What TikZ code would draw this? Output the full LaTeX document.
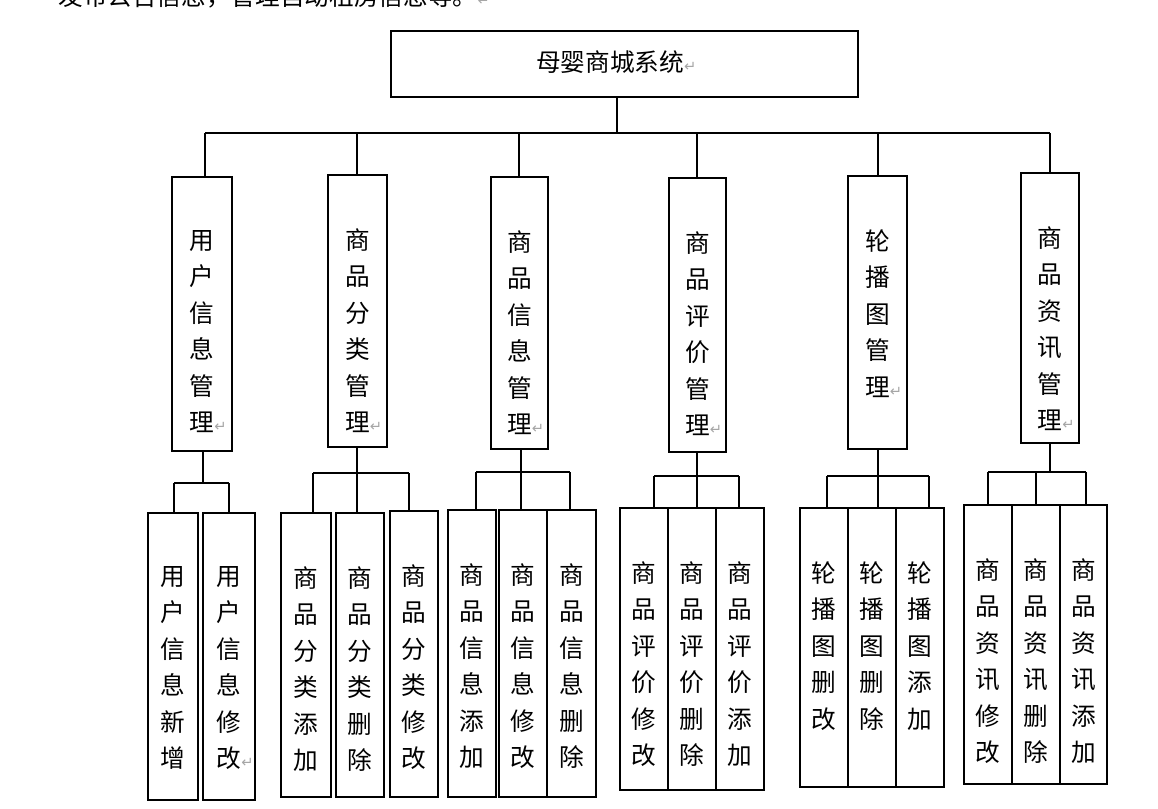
\documentclass[tikz,border=0pt]{standalone}
\usepackage{fontspec}
\setmainfont{Noto Sans CJK SC}
\newfontfamily\djv{DejaVu Sans}
\newcommand\ret{\rlap{\color{gray!70}\djv\fontsize{11}{11}\selectfont ↵}}
\tikzset{
  boxn/.style={draw, line width=0.9pt, inner sep=0pt},
  txt/.style={inner sep=0pt, align=center, anchor=north, font=\fontsize{18.5}{27.4}\selectfont},
  ln/.style={line width=0.9pt}
}
% name, x1, y1, x2, y2, text
\newcommand\bx[6]{%
  \node[boxn, minimum width={(#4-#2)*0.75pt}, minimum height={(#5-#3)*0.75pt}] (#1) at ({(#2+#4)/2},{(#3+#5)/2}) {};
  \node[txt] (#1t) at ({(#2+#4)/2},{#3+53}) {#6};}
\begin{document}
\begin{tikzpicture}[x=0.75pt,y=-0.75pt]
\useasboundingbox (0,0) rectangle (1158,808);
\clip (0,0) rectangle (1158,808);
\node[anchor=west, inner sep=0pt, font=\fontsize{18.5}{18.5}\selectfont] (intro) at (58,-4) {发布公告信息，管理自动租房信息等。\ret};
\node[boxn, minimum width={467*0.75pt}, minimum height={66*0.75pt}] (root) at (624.5,64) {};
\node[inner sep=0pt, font=\fontsize{18.5}{18.5}\selectfont] (roott) at (610,62) {母婴商城系统\ret};
\bx{a}{172}{177}{232}{451}{用\\户\\信\\息\\管\\理\ret}
\bx{b}{328}{175}{387}{447}{商\\品\\分\\类\\管\\理\ret}
\bx{c}{491}{177}{548}{449}{商\\品\\信\\息\\管\\理\ret}
\bx{d}{669}{178}{726}{452}{商\\品\\评\\价\\管\\理\ret}
\bx{e}{848}{176}{907}{449}{轮\\播\\图\\管\\理\ret}
\bx{f}{1021}{173}{1079}{443}{商\\品\\资\\讯\\管\\理\ret}
\coordinate (bus) at (617,133);
\draw[ln] (root.south -| bus) -- (bus);
\draw[ln] (205,133) -- (1050,133);
\foreach \n/\x in {a/205,b/357,c/519,d/697,e/878,f/1050}{
  \draw[ln] (\x,133) -- (\x,0 |- \n.north);
}
% leaves
\bx{a1}{148}{513}{198}{800}{用\\户\\信\\息\\新\\增}
\bx{a2}{203}{513}{255}{800}{用\\户\\信\\息\\修\\改\ret}
\bx{b1}{281}{513}{331}{797}{商\\品\\分\\类\\添\\加}
\bx{b2}{336}{513}{384}{797}{商\\品\\分\\类\\删\\除}
\bx{b3}{390}{511}{438}{797}{商\\品\\分\\类\\修\\改}
\bx{c1}{448}{510}{496}{797}{商\\品\\信\\息\\添\\加}
\bx{c2}{499}{510}{547}{797}{商\\品\\信\\息\\修\\改}
\bx{c3}{547}{510}{596}{797}{商\\品\\信\\息\\删\\除}
\bx{d1}{620}{508}{668}{790}{商\\品\\评\\价\\修\\改}
\bx{d2}{668}{508}{716}{790}{商\\品\\评\\价\\删\\除}
\bx{d3}{716}{508}{764}{790}{商\\品\\评\\价\\添\\加}
\bx{e1}{800}{508}{848}{787}{轮\\播\\图\\删\\改}
\bx{e2}{848}{508}{896}{787}{轮\\播\\图\\删\\除}
\bx{e3}{896}{508}{944}{787}{轮\\播\\图\\添\\加}
\bx{f1}{964}{505}{1012}{784}{商\\品\\资\\讯\\修\\改}
\bx{f2}{1012}{505}{1060}{784}{商\\品\\资\\讯\\删\\除}
\bx{f3}{1060}{505}{1107}{784}{商\\品\\资\\讯\\添\\加}
\draw[ln] (a.south -| 203,0) -- (203,483); \draw[ln] (174,483) -- (229,483);
\draw[ln] (174,483) -- (a1.north -| 174,0); \draw[ln] (229,483) -- (a2.north -| 229,0);
\draw[ln] (b.south -| 357,0) -- (357,473); \draw[ln] (313,473) -- (409,473);
\foreach \x/\n in {313/b1,357/b2,409/b3} \draw[ln] (\x,473) -- (\n.north -| \x,0);
\draw[ln] (c.south -| 521,0) -- (521,472); \draw[ln] (476,472) -- (570,472);
\foreach \x/\n in {476/c1,521/c2,570/c3} \draw[ln] (\x,472) -- (\n.north -| \x,0);
\draw[ln] (d.south -| 697,0) -- (697,476); \draw[ln] (654,476) -- (739,476);
\foreach \x/\n in {654/d1,697/d2,739/d3} \draw[ln] (\x,476) -- (\n.north -| \x,0);
\draw[ln] (e.south -| 878,0) -- (878,476); \draw[ln] (827,476) -- (929,476);
\foreach \x/\n in {827/e1,878/e2,929/e3} \draw[ln] (\x,476) -- (\n.north -| \x,0);
\draw[ln] (f.south -| 1050,0) -- (1050,472); \draw[ln] (988,472) -- (1086,472);
\foreach \x/\n in {988/f1,1036/f2,1086/f3} \draw[ln] (\x,472) -- (\n.north -| \x,0);
\end{tikzpicture}
\end{document}
